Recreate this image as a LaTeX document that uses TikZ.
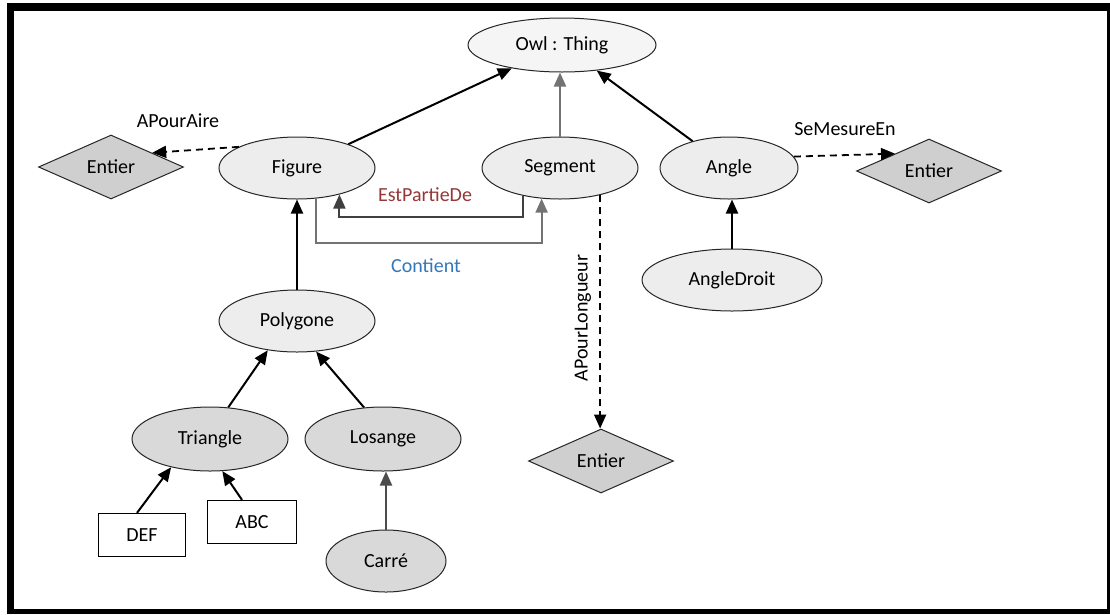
\documentclass[tikz,border=0pt]{standalone}
\usepackage{fontspec}
\setmainfont{Carlito}
\usepackage{xcolor}
\usepackage{tikz}
\usetikzlibrary{shapes.geometric,arrows.meta}

\definecolor{relred}{RGB}{150,55,55}
\definecolor{relblue}{RGB}{50,120,185}

\tikzset{
  cls/.style={ellipse,draw=black!85,line width=1pt,fill=black!7,
    minimum width=156pt,minimum height=62pt,inner sep=0pt},
  subcls/.style={cls,fill=black!15},
  dtype/.style={diamond,draw=black!85,line width=1pt,fill=black!19,
    minimum width=145pt,minimum height=64pt,inner sep=0pt,aspect=2.25},
  inst/.style={rectangle,draw=black,line width=1.3pt,fill=white,
    minimum width=88pt,minimum height=43pt,inner sep=0pt},
  isa/.style={line width=2pt,-{Triangle[length=14pt,width=12pt]}},
  prop/.style={line width=1.8pt,dash pattern=on 7pt off 5pt,
    -{Triangle[length=14pt,width=12pt]}},
}

\begin{document}
\begin{tikzpicture}[x=1pt,y=-1pt,font=\fontsize{20}{24}\selectfont]
  \useasboundingbox (0,0) rectangle (1110,614);
  % frame
  \fill[black] (7,3) rectangle (1110,614);
  \fill[white] (14,11) rectangle (1107,609);

  % classes
  \node (owl) at (562,45) [cls,fill=black!4,minimum width=188pt,minimum height=54pt] {Owl : Thing};
  \node (figure) at (297,168) [cls] {Figure};
  \node (segment) at (560,168) [cls] {Segment};
  \node (angle) at (729,168) [cls,minimum width=138pt] {Angle};
  \node (angledroit) at (732,280) [cls,minimum width=180pt] {AngleDroit};
  \node (polygone) at (297,321) [cls] {Polygone};
  \node (triangle) at (210,439) [subcls,minimum height=64pt] {Triangle};
  \node (losange) at (383,439) [subcls,minimum height=64pt] {Losange};
  \node (carre) at (386,561) [subcls,minimum width=120pt] {Carré};

  % data types
  \node (entierA) at (111,167) [dtype] {Entier};
  \node (entierB) at (929,171) [dtype] {Entier};
  \node (entierC) at (601,461) [dtype] {Entier};

  % individuals
  \node (def) at (142,535) [inst,minimum width=87pt] {DEF};
  \node (abc) at (252,522) [inst,minimum width=89pt] {ABC};

  % subclass links
  \draw[isa] (figure) -- (owl);
  \draw[isa,draw=black!55] (segment.north) -- (segment.north |- owl.south);
  \draw[isa] (angle) -- (owl);
  \draw[isa] (polygone) -- (figure);
  \draw[isa] (triangle.60) -- (polygone.225);
  \draw[isa] (losange.121) -- (polygone.302);
  \draw[isa,draw=black!70] (carre.north) -- (carre.north |- losange.south);
  \draw[isa] (angledroit.north) -- (angledroit.north |- angle.south);
  \draw[isa] ([xshift=-5pt]def.north) -- (triangle.216);
  \draw[isa] ([xshift=-10pt]abc.north) -- (triangle.291);

  % object properties
  \draw[line width=2pt,draw=black!75,-{Triangle[length=14pt,width=12pt]}]
    (segment.217) -- ++(0,21) -| (figure.328);
  \draw[line width=2pt,draw=black!55,-{Triangle[length=14pt,width=12pt]}]
    (figure.302) -- ++(0,44) -| (segment.239);
  \node (lblpartie) at (425,195) [text=relred] {EstPartieDe};
  \node (lblcontient) at (426,266) [text=relblue] {Contient};

  % data properties
  \draw[prop] (figure.160) -- (entierA.19);
  \draw[prop] (angle.10) -- (entierB.153);
  \draw[prop] (segment.326) -- (segment.326 |- entierC.north);
  \node (lblaire) at (178,121) {APourAire};
  \node (lblmesure) at (845,129) {SeMesureEn};
  \node (lbllongueur) at (583,318) [rotate=90] {APourLongueur};
\end{tikzpicture}
\end{document}
